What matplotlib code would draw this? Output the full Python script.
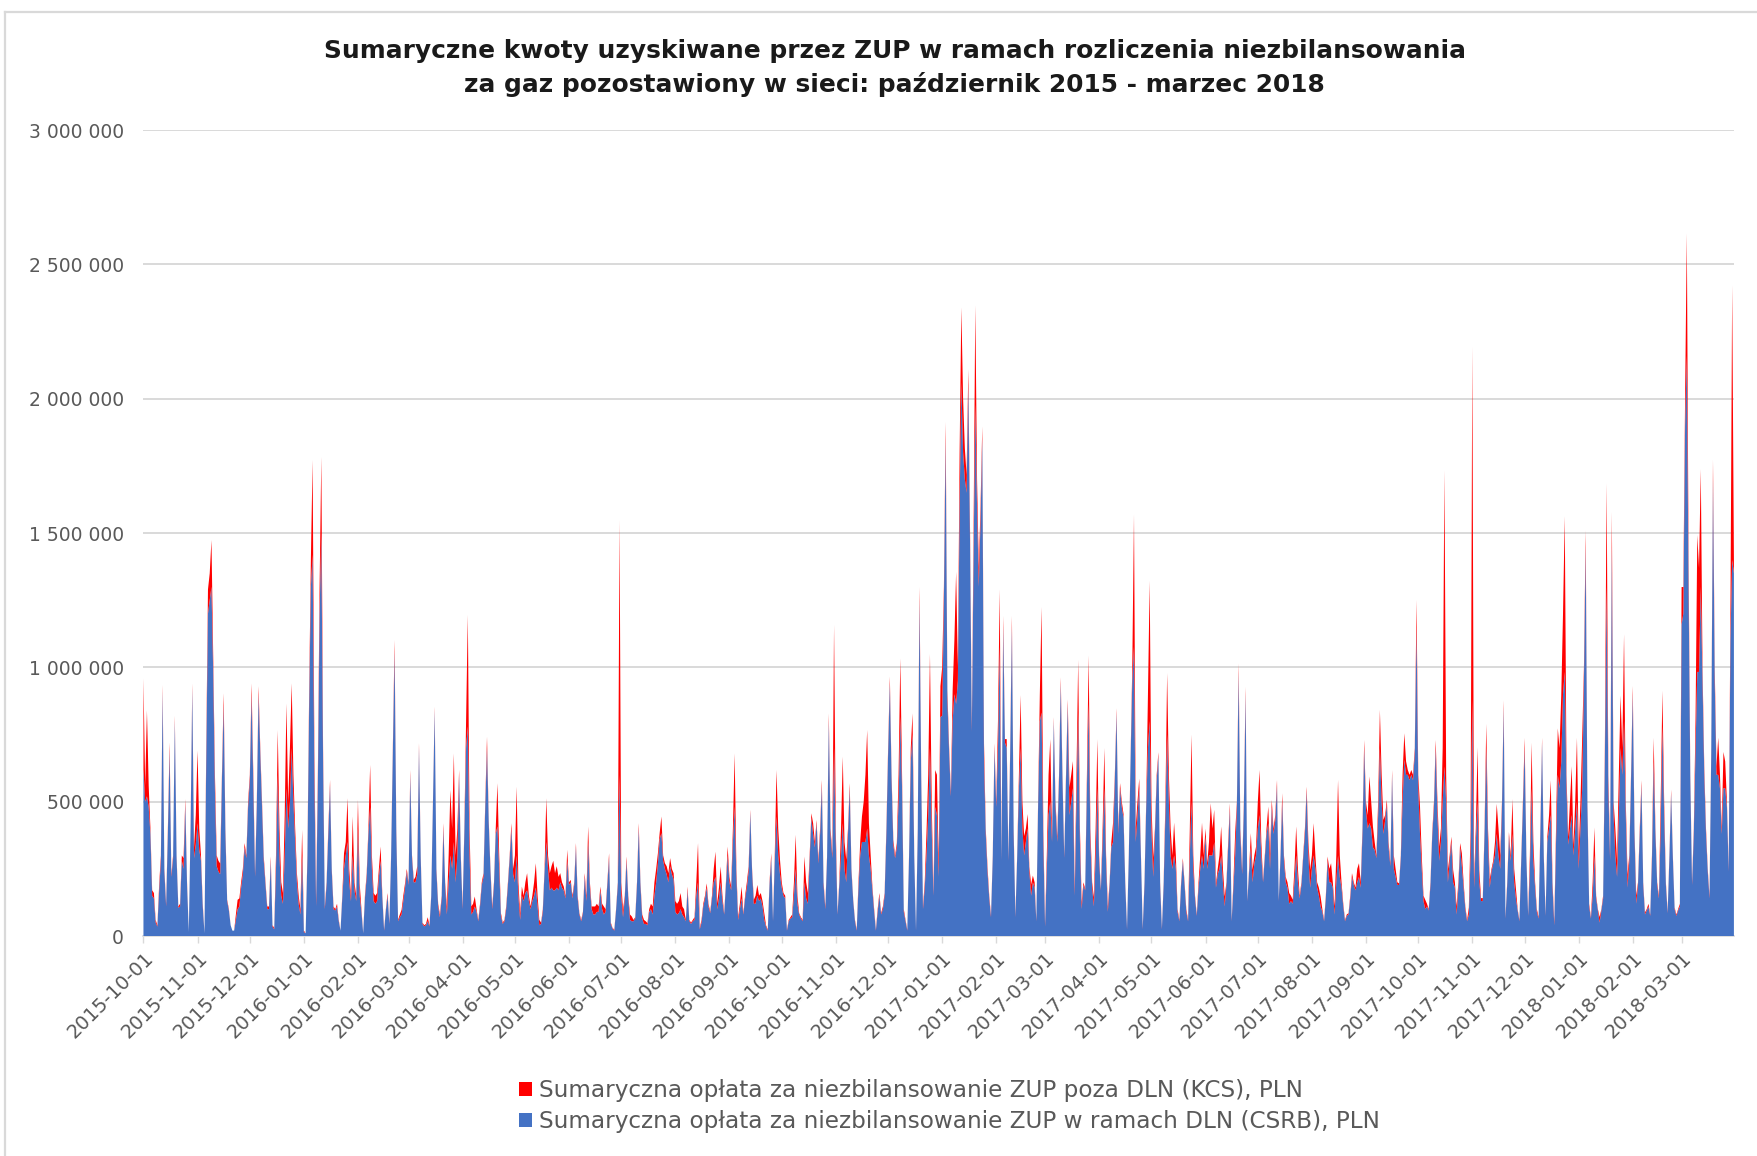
import numpy as np
import pandas as pd
import matplotlib
matplotlib.use("Agg")
import matplotlib.pyplot as plt
from matplotlib.patches import Patch
from matplotlib.lines import Line2D
from matplotlib.ticker import FuncFormatter, MultipleLocator

plt.rcParams['font.family'] = ['DejaVu Sans']

# Daily amounts in thousands of PLN, one row per month.
# CSRB: imbalance charge settled within DLN (lower layer of the stack)
csrb_2015 = [
    620,500,520,480,380,150,140,50,35,170,280,910,240,110,380,690,220,290,800,290,105,110,280,250,490,190,15,390,920,290,340,
    420,320,280,110,10,650,1200,1250,1300,980,540,260,240,230,580,860,380,130,95,40,20,20,60,100,110,180,230,330,290,480,
    580,900,560,220,480,900,680,480,280,190,100,100,280,35,25,250,600,300,150,120,300,550,400,500,700,500,350,200,120,80,300,
]
csrb_2016 = [
    15,10,280,850,1300,1420,600,110,550,1200,1500,650,100,190,380,560,240,100,95,110,55,20,140,250,300,350,200,130,300,170,130,
    400,150,90,10,140,220,380,480,250,130,120,130,220,280,140,20,95,150,45,290,680,1060,380,55,70,80,130,180,240,
    190,600,290,200,200,230,700,290,45,36,40,55,36,145,490,840,240,110,70,140,400,190,80,200,300,250,350,200,300,600,290,
    100,380,700,780,300,80,90,110,90,55,110,190,220,480,700,420,240,100,190,380,408,250,75,45,55,100,190,290,400,230,
    200,300,150,60,150,130,160,170,130,100,130,150,180,110,40,45,90,240,350,250,170,180,170,170,180,170,200,180,170,140,280,
    190,200,140,190,330,140,80,55,85,220,130,350,180,100,80,80,90,90,170,100,80,90,190,290,45,28,20,95,190,600,
    150,70,140,280,140,60,55,55,65,190,400,190,65,45,45,40,90,100,80,150,200,270,360,383,280,250,230,200,260,230,210,
    90,80,85,100,80,70,55,170,55,45,55,60,150,200,25,50,110,140,180,110,85,140,200,220,100,140,200,130,80,190,300,
    200,170,350,482,220,60,100,140,80,140,180,240,460,240,120,120,150,130,140,110,60,35,20,190,290,55,280,445,300,230,
    180,150,140,20,55,65,70,150,250,120,80,65,55,200,140,120,280,440,380,330,420,270,380,560,190,100,290,800,380,290,700,
    350,80,190,300,420,250,200,380,550,240,130,55,20,180,300,350,350,350,400,300,250,170,90,20,90,150,80,100,150,380,
    680,940,580,340,290,330,500,817,550,90,55,20,290,650,750,290,20,380,1250,580,100,180,300,450,700,400,150,480,450,220,815,
]
csrb_2017 = [
    820,1250,1850,880,680,520,800,900,864,950,1600,2061,1800,1700,1650,2050,1450,760,1400,1979,1600,1300,1550,1850,650,380,240,140,70,290,700,
    480,700,1077,280,1150,720,700,280,680,1150,380,70,290,550,700,400,300,350,400,240,150,200,180,55,480,800,832,350,
    35,250,450,500,350,800,480,350,580,940,580,290,580,860,450,500,550,150,500,832,350,100,190,170,550,864,350,180,110,300,550,
    280,170,350,550,270,90,190,330,350,580,830,380,550,480,440,190,25,290,640,950,1077,350,450,550,290,25,190,480,700,800,
    400,220,380,580,670,190,25,190,450,750,500,300,250,300,250,90,55,190,280,190,90,55,300,500,250,140,75,180,250,300,250,
    370,250,300,300,300,350,180,230,250,300,200,110,190,330,470,55,180,300,480,980,380,230,480,900,130,240,330,200,270,300,
    400,450,300,200,290,380,420,250,480,380,430,560,130,290,500,280,200,180,120,130,120,200,300,200,140,190,290,380,540,300,180,
    250,300,250,180,150,110,90,55,140,280,200,200,180,80,200,300,220,180,110,55,75,80,140,220,190,170,200,220,180,380,700,
    470,400,420,400,330,320,290,450,700,500,380,430,490,330,260,600,250,220,190,190,290,500,656,600,600,580,600,580,680,1150,
    550,380,250,130,100,110,95,190,370,480,700,450,280,350,500,631,500,200,280,350,200,180,80,180,330,260,180,100,55,80,300,
    880,180,350,500,200,130,130,380,700,350,180,240,270,300,380,300,250,480,850,65,190,370,280,380,200,140,95,55,270,480,
    700,290,75,250,550,280,180,90,65,380,720,290,75,350,400,450,180,40,350,600,550,650,900,983,550,340,400,450,300,400,500,
]
csrb_2018 = [
    250,400,550,950,1450,480,110,65,150,300,140,95,50,95,140,650,1300,550,280,1450,450,300,220,450,700,600,800,450,180,280,580,
    900,380,120,190,380,560,190,80,95,110,75,280,650,380,190,140,400,780,450,190,85,290,530,290,100,75,95,110,
    1159,1200,1900,2160,1300,580,190,380,700,983,983,1300,950,600,380,240,140,680,1700,950,600,600,550,380,550,550,480,240,1100,1400,1350,
]

# KCS: imbalance charge outside DLN (upper layer of the stack)
kcs_2015 = [
    340,60,320,80,20,20,20,10,5,20,20,25,10,10,20,30,10,10,20,10,5,10,20,40,20,10,0,10,20,40,110,
    270,80,20,10,0,50,90,100,174,60,60,40,40,40,20,44,20,5,5,0,0,0,20,35,30,20,20,16,10,20,
    20,41,40,14,20,30,20,20,16,10,10,10,16,5,5,50,167,100,50,40,150,316,100,200,241,100,50,34,30,20,95,
]
kcs_2016 = [
    5,0,20,50,100,352,100,25,50,100,284,50,10,10,20,21,10,10,5,10,5,0,10,58,50,163,50,20,145,30,20,
    107,46,10,1,10,14,20,157,50,30,30,30,30,53,10,4,5,10,5,10,20,42,20,5,10,17,20,16,10,
    10,18,10,9,20,30,18,10,5,4,5,15,4,5,10,14,10,10,10,10,20,10,30,100,244,150,330,100,100,18,10,
    10,20,100,415,100,30,30,37,10,5,10,10,14,20,42,12,10,10,10,20,161,50,10,5,5,10,10,10,20,20,
    100,256,50,25,34,20,40,64,20,10,20,50,91,40,20,5,10,10,163,50,64,80,110,64,80,50,34,20,14,10,41,
    10,9,10,10,16,10,5,5,5,14,20,58,20,10,30,30,30,20,14,20,30,10,10,18,5,2,4,5,10,948,
    50,27,10,16,10,20,18,5,5,10,20,10,15,15,10,8,10,20,30,50,50,38,23,62,20,21,30,34,30,20,24,
    40,40,45,60,30,30,5,14,5,5,5,10,50,146,5,10,10,10,16,10,5,10,50,94,22,40,59,20,5,10,33,
    20,14,50,198,30,10,20,44,5,10,20,19,10,10,15,30,40,20,20,20,25,5,4,10,18,5,20,173,100,54,
    20,10,10,4,5,5,10,50,127,30,5,5,5,96,60,40,20,17,40,20,12,14,20,21,10,10,10,29,20,18,458,
    50,5,10,100,248,100,84,20,19,10,5,5,4,20,50,95,150,250,367,120,50,14,10,4,10,10,5,10,10,20,
    20,26,20,18,10,16,100,217,50,10,5,4,10,50,79,10,4,20,50,20,10,20,83,150,350,100,10,138,150,54,115,
]
kcs_2017 = [
    180,50,64,34,20,16,114,200,492,50,200,279,200,115,67,60,50,22,100,369,100,73,50,47,67,20,18,10,7,10,17,
    20,100,214,10,42,13,33,10,20,42,20,7,10,50,197,100,72,50,54,18,42,25,20,5,20,100,393,50,
    10,50,150,233,22,15,20,22,20,23,20,10,20,21,103,100,101,26,100,196,50,27,10,6,50,181,50,20,33,100,183,
    20,6,50,150,30,20,10,20,72,20,18,20,19,20,14,10,5,10,11,50,493,55,50,36,10,5,10,20,200,523,
    100,70,20,20,14,10,5,10,50,229,100,100,50,122,50,10,5,10,10,10,10,5,100,250,50,10,5,20,50,122,50,
    30,21,50,194,100,120,16,20,50,108,50,37,10,20,24,5,20,83,20,35,20,16,20,28,5,10,53,46,30,33,
    100,168,50,9,10,20,62,58,27,20,20,21,5,10,32,20,20,20,40,20,15,50,108,50,10,10,10,20,16,50,66,
    50,120,50,20,30,37,10,5,10,16,50,71,20,30,100,281,80,20,10,5,5,5,10,14,10,10,50,51,20,20,30,
    30,50,174,100,78,30,10,50,142,100,52,20,17,20,11,18,50,30,10,6,10,100,99,50,18,20,18,20,20,101,
    50,102,50,20,35,10,5,10,13,20,30,50,53,50,200,1103,100,46,20,20,46,20,30,20,16,48,20,10,5,26,100,
    1315,31,50,203,46,11,11,20,90,50,31,10,11,50,112,100,50,20,28,5,10,17,20,130,50,36,5,5,11,20,
    38,10,5,50,170,70,20,10,6,20,18,10,5,19,50,130,20,13,50,173,150,246,300,580,50,29,100,182,34,100,238,
]
kcs_2018 = [
    66,100,188,50,60,20,10,5,50,104,10,5,21,5,10,50,386,50,20,130,50,100,61,150,196,100,324,50,49,20,20,
    31,20,30,10,20,20,10,8,5,10,5,20,88,20,10,10,100,133,50,10,5,10,15,10,6,5,5,10,
    140,99,102,456,100,20,10,20,108,510,387,438,50,32,20,10,10,20,74,50,32,138,50,24,135,100,20,10,100,1023,50,
]

series_labels = [
    "Sumaryczna opłata za niezbilansowanie ZUP poza DLN (KCS), PLN",
    "Sumaryczna opłata za niezbilansowanie ZUP w ramach DLN (CSRB), PLN",
]
title_lines = [
    "Sumaryczne kwoty uzyskiwane przez ZUP w ramach rozliczenia niezbilansowania",
    "za gaz pozostawiony w sieci: październik 2015 - marzec 2018",
]

dates = pd.date_range("2015-10-01", "2018-03-31", freq="D")
csrb = np.array(csrb_2015 + csrb_2016 + csrb_2017 + csrb_2018, dtype=float) * 1000
kcs = np.array(kcs_2015 + kcs_2016 + kcs_2017 + kcs_2018, dtype=float) * 1000
assert len(csrb) == len(dates) and len(kcs) == len(dates)

BLUE = "#4472C4"
RED = "#FF0000"
GRID = "#D9D9D9"
TEXT = "#595959"

fig = plt.figure(figsize=(17.58, 11.56), dpi=100)
fig.patch.set_facecolor("white")

ax = fig.add_axes([0.0816, 0.1903, 0.9047, 0.6972])
ax.stackplot(dates, csrb, kcs, colors=[BLUE, RED], linewidth=0, zorder=3)

ax.set_xlim(dates[0], dates[-1])
ax.set_ylim(0, 3_000_000)
ax.yaxis.set_major_locator(MultipleLocator(500_000))
ax.yaxis.set_major_formatter(FuncFormatter(lambda v, p: f"{int(v):,}".replace(",", " ")))
ax.grid(axis="y", color=GRID, linewidth=1.4, zorder=0)
ax.set_axisbelow(True)

month_starts = pd.date_range("2015-10-01", "2018-03-01", freq="MS")
ax.set_xticks(month_starts)
ax.set_xticklabels([d.strftime("%Y-%m-%d") for d in month_starts],
                   rotation=45, ha="right", va="top", rotation_mode="anchor")

for side in ("top", "right", "left"):
    ax.spines[side].set_visible(False)
ax.spines["bottom"].set_color(GRID)
ax.spines["bottom"].set_linewidth(1.2)

ax.tick_params(axis="y", length=0, pad=14, labelsize=13.5, labelcolor=TEXT)
ax.tick_params(axis="x", length=5, width=1.0, color=GRID, pad=4,
               labelsize=14, labelcolor=TEXT)

fig.text(0.509, 0.9415, "\n".join(title_lines), ha="center", va="center",
         fontsize=17.9, fontweight="bold", color="#1a1a1a", linespacing=1.44)

handles = [Patch(facecolor=RED, edgecolor="none"), Patch(facecolor=BLUE, edgecolor="none")]
fig.legend(handles, series_labels, loc="center", bbox_to_anchor=(0.540, 0.0433),
           ncol=1, frameon=False, fontsize=16.7, labelcolor=TEXT,
           handlelength=0.55, handleheight=0.55, handletextpad=0.3, labelspacing=0.35)

# chart frame (top and left edges)
fig.add_artist(Line2D([0.0028, 1.0], [0.9896, 0.9896], transform=fig.transFigure,
                      color=GRID, linewidth=1.6))
fig.add_artist(Line2D([0.0028, 0.0028], [0.0, 0.9896], transform=fig.transFigure,
                      color=GRID, linewidth=1.6))

fig.savefig("out.png", dpi=100, facecolor="white")
